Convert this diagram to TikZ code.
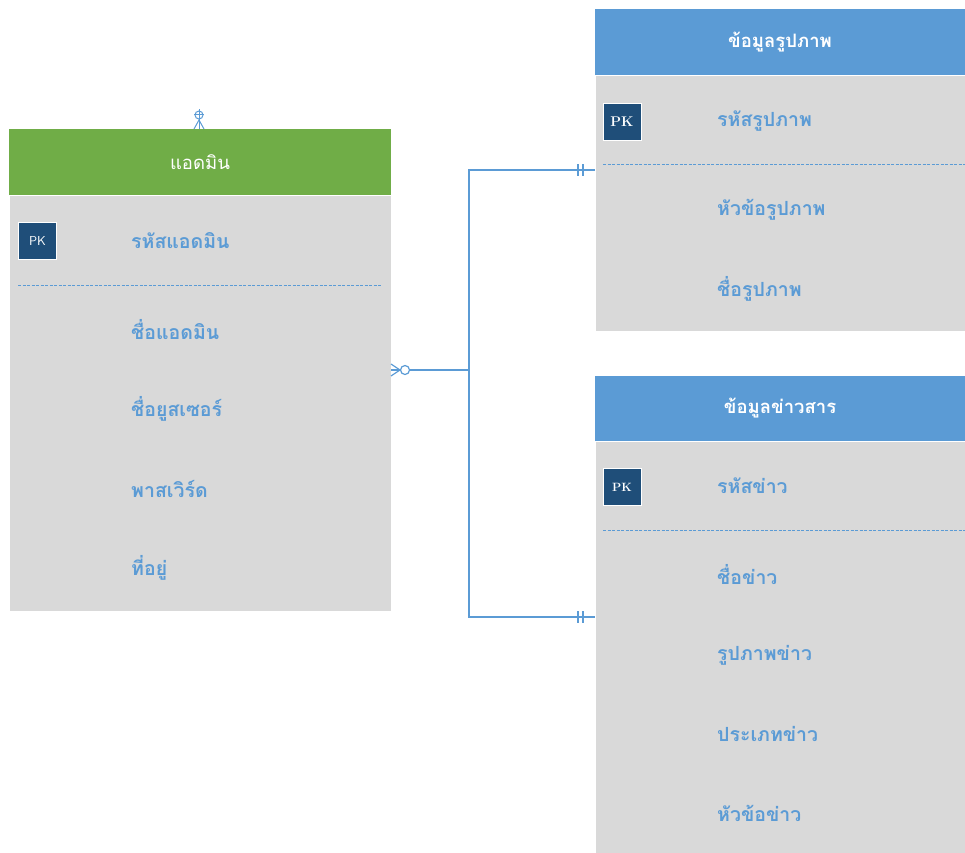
\documentclass[tikz,border=0pt]{standalone}
\usepackage{fontspec}
\newfontfamily\thaifont[Script=Thai]{Loma}
\definecolor{hgreen}{HTML}{70AD47}
\definecolor{hblue}{HTML}{5B9BD5}
\definecolor{bodygray}{HTML}{D9D9D9}
\definecolor{pkblue}{HTML}{1F4E79}
\definecolor{attrblue}{HTML}{5B9BD5}
\definecolor{linkblue}{HTML}{5B9BD5}
\begin{document}
\begin{tikzpicture}[x=1pt,y=-1pt,
  hdr/.style={anchor=north west,inner sep=0pt,outer sep=0pt,text=white,font=\thaifont\fontsize{18.5}{22}\selectfont\bfseries},
  tbody/.style={anchor=north west,inner sep=0pt,outer sep=0pt,fill=bodygray,draw=white,line width=0.6pt},
  attr/.style={anchor=west,inner sep=0pt,text=attrblue,font=\thaifont\fontsize{19.5}{23}\selectfont\bfseries},
  pkbox/.style={draw=white,line width=1pt,fill=pkblue,text=white,minimum width=38pt,minimum height=37pt,inner sep=0pt,font=\sffamily\fontsize{13}{14}\selectfont},
  sep/.style={draw=linkblue,dashed,dash pattern=on 3pt off 1.5pt,line width=1pt},
  conn/.style={draw=linkblue,line width=1.2pt}]
\useasboundingbox (0,0) rectangle (965,852);
% Admin table
\node[tbody,minimum width=382pt,minimum height=416pt] (adminB) at (9,195) {};
\node[hdr,fill=hgreen,minimum width=382pt,minimum height=66pt,font=\thaifont\fontsize{18.5}{22}\selectfont] (adminH) at (9,129) {แอดมิน};
\node[pkbox] (adminPK) at (37.5,240.5) {PK};
\node[attr] (a1) at (131,241) {รหัสแอดมิน};
\draw[sep] (18,285) -- (381,285);
\node[attr] (a2) at (131,330) {ชื่อแอดมิน};
\node[attr] (a3) at (131,409) {ชื่อยูสเซอร์};
\node[attr] (a4) at (131,489) {พาสเวิร์ด};
\node[attr] (a5) at (131,568) {ที่อยู่};
% Image table
\node[tbody,minimum width=370pt,minimum height=256pt] (imgB) at (595,75) {};
\node[hdr,fill=hblue,minimum width=370pt,minimum height=66pt] (imgH) at (595,9) {ข้อมูลรูปภาพ};
\node[pkbox,font=\rmfamily\bfseries\fontsize{14}{15}\selectfont] (imgPK) at (622,121.5) {PK};
\node[attr] (i1) at (717,121) {รหัสรูปภาพ};
\draw[sep] (603,164) -- (965,164);
\node[attr] (i2) at (717,210) {หัวข้อรูปภาพ};
\node[attr] (i3) at (717,289) {ชื่อรูปภาพ};
% News table
\node[tbody,minimum width=370pt,minimum height=412pt] (newsB) at (595,441) {};
\node[hdr,fill=hblue,minimum width=370pt,minimum height=65pt] (newsH) at (595,376) {ข้อมูลข่าวสาร};
\node[pkbox,font=\rmfamily\bfseries\fontsize{12}{13}\selectfont] (newsPK) at (622,487) {PK};
\node[attr] (n1) at (717,486) {รหัสข่าว};
\draw[sep] (603,530) -- (965,530);
\node[attr] (n2) at (717,575) {ชื่อข่าว};
\node[attr] (n3) at (717,655) {รูปภาพข่าว};
\node[attr] (n4) at (717,734) {ประเภทข่าว};
\node[attr] (n5) at (717,813) {หัวข้อข่าว};
% connectors
\coordinate (aR) at (391,370);
\coordinate (aC) at (405,370);
\coordinate (iL) at (595,170);
\coordinate (nL) at (595,617);
\draw[conn] (aC) ++(4.5,0) -- (469,370) |- (iL);
\draw[conn] (469,370) |- (nL);
\draw[conn] (aC) circle (4.5pt);
\draw[conn] (aR) ++(0,-6) -- ++(9,6) -- ++(-9,6);
\draw[conn] (aR) -- ++(9,0);
\foreach \c in {iL,nL}{
  \draw[conn] (\c) ++(-17,-6) -- ++(0,12);
  \draw[conn] (\c) ++(-12,-6) -- ++(0,12);
}
% top stub symbol on admin
\coordinate (aT) at (199,129);
\draw[conn,line width=1pt] (aT) -- ++(0,-20);
\draw[conn,line width=1pt] (aT) ++(-5,0) -- ++(5,-9) -- ++(5,9);
\draw[conn,line width=1pt] (aT) ++(-5,-15) -- ++(10,0);
\draw[conn,line width=1pt] (199,115) circle (4pt);
\end{tikzpicture}
\end{document}
